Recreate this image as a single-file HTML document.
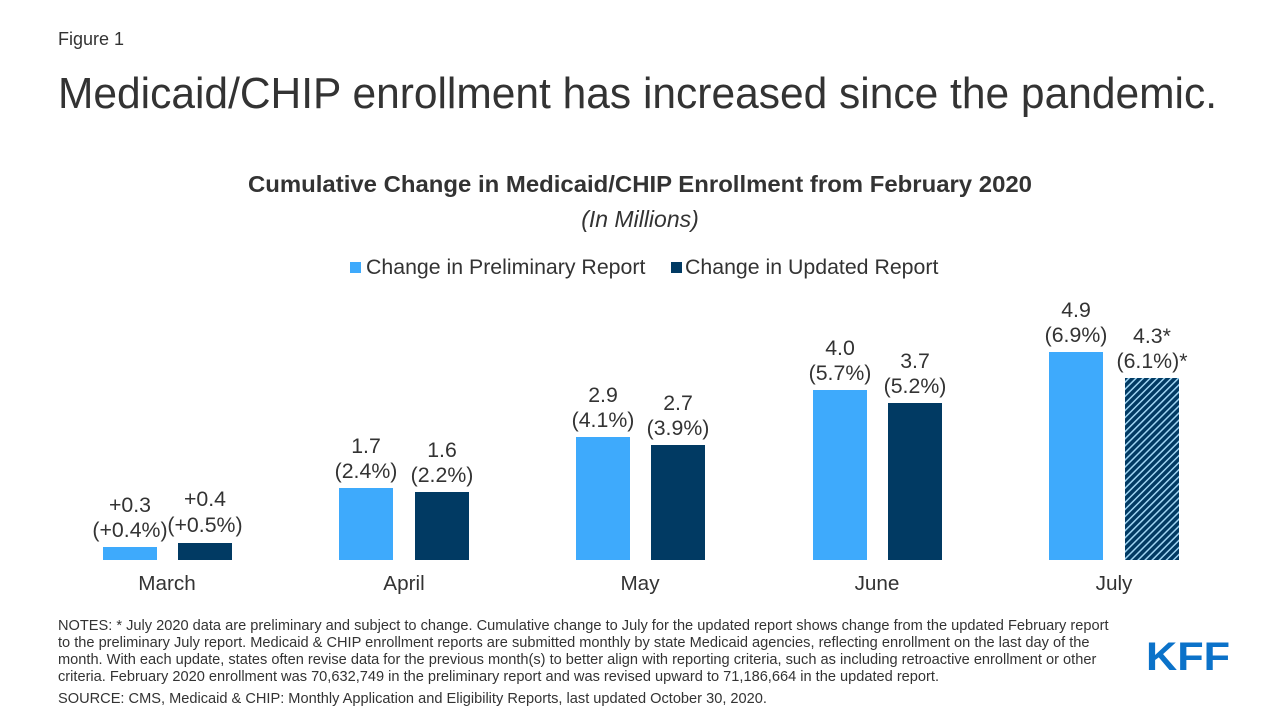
<!DOCTYPE html>
<html>
<head>
<meta charset="utf-8">
<style>
  html, body { margin: 0; padding: 0; background: #ffffff; }
  svg { display: block; }
  text { font-family: "Liberation Sans", Arial, sans-serif; fill: #333333; }
</style>
</head>
<body>
<svg width="1280" height="720" viewBox="0 0 1280 720" xmlns="http://www.w3.org/2000/svg">
  <defs>
    <pattern id="hatch" patternUnits="userSpaceOnUse" width="5" height="5" patternTransform="rotate(45)">
      <rect width="5" height="5" fill="#013a63"/>
      <rect x="0" y="0" width="1.5" height="5" fill="#9fd4f2"/>
    </pattern>
  </defs>
  <rect width="1280" height="720" fill="#ffffff"/>

  <text x="58" y="45" font-size="18">Figure 1</text>
  <text x="58" y="108" font-size="44" textLength="1159" lengthAdjust="spacingAndGlyphs">Medicaid/CHIP enrollment has increased since the pandemic.</text>

  <text x="640" y="192" font-size="23" font-weight="bold" text-anchor="middle" textLength="784" lengthAdjust="spacingAndGlyphs">Cumulative Change in Medicaid/CHIP Enrollment from February 2020</text>
  <text x="640" y="227" font-size="23" font-style="italic" text-anchor="middle">(In Millions)</text>

  <!-- legend -->
  <rect x="350" y="262" width="11" height="11" fill="#3eaafc"/>
  <text x="366" y="274" font-size="21.3">Change in Preliminary Report</text>
  <rect x="671" y="262" width="11" height="11" fill="#013a63"/>
  <text x="685" y="274" font-size="21.3">Change in Updated Report</text>

  <!-- bars -->
  <rect x="103" y="547" width="54" height="13" fill="#3eaafc"/>
  <rect x="178" y="543" width="54" height="17" fill="#013a63"/>
  <rect x="339" y="488" width="54" height="72" fill="#3eaafc"/>
  <rect x="415" y="492" width="54" height="68" fill="#013a63"/>
  <rect x="576" y="437" width="54" height="123" fill="#3eaafc"/>
  <rect x="651" y="445" width="54" height="115" fill="#013a63"/>
  <rect x="813" y="390" width="54" height="170" fill="#3eaafc"/>
  <rect x="888" y="403" width="54" height="157" fill="#013a63"/>
  <rect x="1049" y="352" width="54" height="208" fill="#3eaafc"/>
  <rect x="1125" y="378" width="54" height="182" fill="url(#hatch)"/>

  <!-- data labels -->
  <g font-size="21.3" text-anchor="middle">
    <text x="130" y="512">+0.3</text>
    <text x="130" y="537">(+0.4%)</text>
    <text x="205" y="506">+0.4</text>
    <text x="205" y="532">(+0.5%)</text>

    <text x="366" y="453">1.7</text>
    <text x="366" y="478">(2.4%)</text>
    <text x="442" y="457">1.6</text>
    <text x="442" y="482">(2.2%)</text>

    <text x="603" y="402">2.9</text>
    <text x="603" y="427">(4.1%)</text>
    <text x="678" y="410">2.7</text>
    <text x="678" y="435">(3.9%)</text>

    <text x="840" y="355">4.0</text>
    <text x="840" y="380">(5.7%)</text>
    <text x="915" y="368">3.7</text>
    <text x="915" y="393">(5.2%)</text>

    <text x="1076" y="317">4.9</text>
    <text x="1076" y="342">(6.9%)</text>
    <text x="1152" y="343">4.3*</text>
    <text x="1152" y="368">(6.1%)*</text>
  </g>

  <!-- category labels -->
  <g font-size="20.7" text-anchor="middle">
    <text x="167" y="590">March</text>
    <text x="404" y="590">April</text>
    <text x="640" y="590">May</text>
    <text x="877" y="590">June</text>
    <text x="1114" y="590">July</text>
  </g>

  <!-- notes -->
  <g font-size="14.6">
    <text x="58" y="630">NOTES: * July 2020 data are preliminary and subject to change. Cumulative change to July for the updated report shows change from the updated February report</text>
    <text x="58" y="647">to the preliminary July report. Medicaid &amp; CHIP enrollment reports are submitted monthly by state Medicaid agencies, reflecting enrollment on the last day of the</text>
    <text x="58" y="664">month. With each update, states often revise data for the previous month(s) to better align with reporting criteria, such as including retroactive enrollment or other</text>
    <text x="58" y="681">criteria. February 2020 enrollment was 70,632,749  in the preliminary report and was revised upward to 71,186,664 in the updated report.</text>
    <text x="58" y="703">SOURCE: CMS, Medicaid &amp; CHIP: Monthly Application and Eligibility Reports, last updated October 30, 2020.</text>
  </g>

  <!-- KFF logo -->
  <text x="1146" y="670" font-size="40" font-weight="bold" style="fill:#0b72c9" textLength="84" lengthAdjust="spacingAndGlyphs">KFF</text>
</svg>
</body>
</html>
